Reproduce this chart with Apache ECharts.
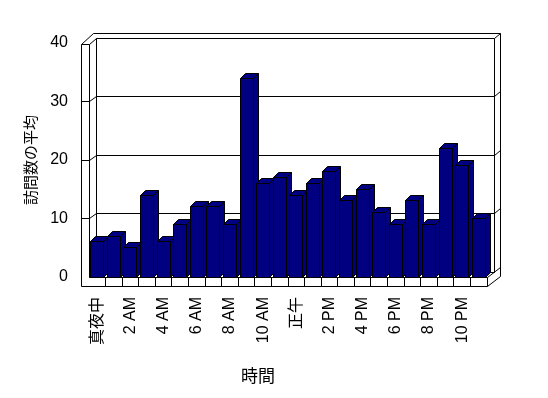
<!DOCTYPE html>
<html>
<head>
<meta charset="utf-8">
<script src="https://cdn.jsdelivr.net/npm/echarts@6/dist/echarts.min.js"></script>
<style>
html,body{margin:0;padding:0;background:#fff;}
#chart{width:548px;height:398px;}
</style>
</head>
<body>
<div id="chart"></div>
<script>
var categories = ['真夜中','1 AM','2 AM','3 AM','4 AM','5 AM','6 AM','7 AM','8 AM','9 AM','10 AM','11 AM',
                  '正午','1 PM','2 PM','3 PM','4 PM','5 PM','6 PM','7 PM','8 PM','9 PM','10 PM','11 PM'];
var visits = [6,7,5,14,6,9,12,12,9,34,16,17,14,16,18,13,15,11,9,13,9,22,19,10];
var yMin = 0, yMax = 40, yStep = 10;
var yTitle = '訪問数の平均';
var xTitle = '時間';

var FONT = "'Liberation Sans','Noto Sans CJK JP',sans-serif";
var BAR_FILL = '#000080';

function px(v){ return Math.round(v - 0.5) + 0.5; }

function line(x1,y1,x2,y2){
  return {type:'line', shape:{x1:x1,y1:y1,x2:x2,y2:y2}, style:{stroke:'#000', lineWidth:1}, silent:true};
}
function poly(pts){
  return {type:'polyline', shape:{points:pts}, style:{stroke:'#000', fill:null, lineWidth:1}, silent:true};
}

function renderFrame(params, api){
  var w = api.size([1,0])[0];
  var c0 = api.coord([0, yMin]);
  var cN = api.coord([categories.length-1, yMin]);
  var xL = px(c0[0] - w/2), xR = px(cN[0] + w/2);
  var yB = px(c0[1]);
  var yT = px(api.coord([0, yMax])[1]);
  var bx = 7, by = -5, ox = 13, oy = -10;
  var wallW = 8, floorH = 9;
  var ch = [];
  // white fills
  ch.push({type:'polygon', shape:{points:[[xL-wallW,yT+1],[xL+ox-wallW,yT+oy],[xR+ox,yT+oy],[xR+ox,yB+floorH+oy],[xR,yB+floorH],[xL-wallW,yB+floorH]]},
           style:{fill:'#fff', stroke:null}, silent:true});
  // outer contour
  ch.push(poly([[xL-wallW,yT+1],[xL-wallW+ox-1,yT+oy],[xR+ox,yT+oy],[xR+ox,yB+floorH+oy],[xR,yB+floorH]]));
  // left wall front + floor front
  ch.push(poly([[xL-wallW,yT+1],[xL,yT+1],[xL,yB],[xR,yB],[xR,yB+floorH],[xL-wallW,yB+floorH],[xL-wallW,yT+1]]));
  // inner back wall edges
  ch.push(poly([[xL,yT+1],[xL+bx,yT+by],[xR+bx,yT+by],[xR+bx,yB+by]]));
  ch.push(line(xR+bx,yT+by,xR+ox,yT+oy));
  ch.push(line(xL+bx,yT+by,xL+bx,yB+by));
  // floor top edges
  ch.push(line(xL,yB,xL+bx,yB+by));
  ch.push(line(xL+bx,yB+by,xR+bx,yB+by));
  ch.push(line(xR,yB,xR+ox,yB+oy));
  // gridlines
  for (var v = yMin + yStep; v < yMax; v += yStep){
    var gy = px(api.coord([0, v])[1]);
    ch.push(line(xL-wallW,gy,xL,gy));
    ch.push(line(xL,gy,xL+bx,gy+by));
    ch.push(line(xL+bx,gy+by,xR+bx,gy+by));
    ch.push(line(xR+bx,gy+by,xR+ox,gy+oy));
  }
  // category ticks on floor front
  for (var k = 1; k < categories.length; k++){
    var tx = px(c0[0] - w/2 + k*w);
    ch.push(line(tx,yB,tx,yB+floorH));
  }
  return {type:'group', children:ch};
}

function renderBar(params, api){
  var i = api.value(0), v = api.value(1);
  var base = api.coord([i, yMin]);
  var top = api.coord([i, v]);
  var w = api.size([1,0])[0];
  var x0 = px(base[0] - w/2 + 1.8);
  var x1 = px(x0 + w*0.77);
  var y0 = px(base[1]), y1 = px(top[1]);
  var dx = 5, dy = -5;
  var st = {fill:BAR_FILL, stroke:'#000', lineWidth:1};
  return {type:'group', children:[
    {type:'polygon', shape:{points:[[x1,y0],[x1+dx,y0+dy],[x1+dx,y1+dy],[x1,y1]]}, style:st},
    {type:'polygon', shape:{points:[[x0,y1],[x1,y1],[x1+dx,y1+dy],[x0+dx,y1+dy]]}, style:st},
    {type:'polygon', shape:{points:[[x0,y1],[x1,y1],[x1,y0],[x0,y0]]}, style:st}
  ]};
}

var chart = echarts.init(document.getElementById('chart'), null, {renderer:'canvas'});
chart.setOption({
  animation:false,
  backgroundColor:'#fff',
  grid:{left:89, right:61, top:43, bottom:121},
  xAxis:{
    type:'category', data:categories, boundaryGap:true,
    axisLine:{show:false}, axisTick:{show:false}, splitLine:{show:false},
    axisLabel:{interval:1, rotate:90, margin:20, color:'#000', fontSize:16, fontFamily:FONT},
    name:xTitle, nameLocation:'middle', nameGap:92,
    nameTextStyle:{color:'#000', fontSize:17, fontFamily:FONT, padding:[0,60,0,0]}
  },
  yAxis:{
    type:'value', min:yMin, max:yMax, interval:yStep,
    axisLine:{show:false}, axisTick:{show:false}, splitLine:{show:false},
    axisLabel:{margin:21, color:'#000', fontSize:16, fontFamily:FONT},
    name:yTitle, nameLocation:'middle', nameRotate:90, nameGap:48,
    nameTextStyle:{color:'#000', fontSize:15, fontFamily:FONT}
  },
  series:[
    {type:'custom', name:'frame', renderItem:renderFrame, data:[[0,0]], z:1, silent:true, clip:false},
    {type:'custom', name:'visits', renderItem:renderBar, z:2, clip:false,
     data:visits.map(function(v,i){return [i,v];})}
  ]
});
</script>
</body>
</html>
